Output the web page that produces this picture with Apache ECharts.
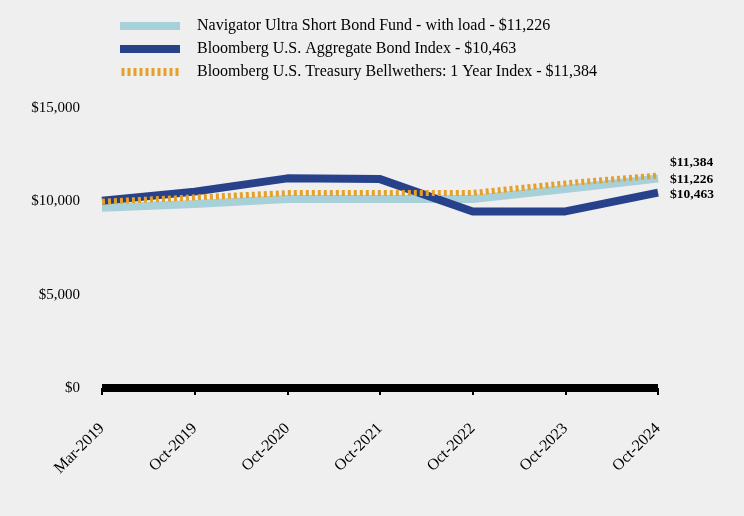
<!DOCTYPE html>
<html><head><meta charset="utf-8">
<script src="https://cdn.jsdelivr.net/npm/echarts@6/dist/echarts.min.js"></script>
<style>html,body{margin:0;padding:0;background:#efefef}#c{width:744px;height:516px}</style>
</head><body><div id="c"></div>
<script>
var categories = ['Mar-2019','Oct-2019','Oct-2020','Oct-2021','Oct-2022','Oct-2023','Oct-2024'];
var fundName = 'Navigator Ultra Short Bond Fund - with load - $11,226';
var aggName = 'Bloomberg U.S. Aggregate Bond Index - $10,463';
var tsyName = 'Bloomberg U.S. Treasury Bellwethers: 1 Year Index - $11,384';
var fundValues = [9650, 9860, 10120, 10130, 10120, 10660, 11226];
var aggValues = [10030, 10520, 11230, 11190, 9450, 9460, 10463];
var tsyValues = [9980, 10210, 10440, 10450, 10450, 10960, 11384];
var yTicks = [0, 5000, 10000, 15000];

var serif = '"Liberation Serif","DejaVu Serif",serif';
function endLabel(offY){
  return {show:true, distance:12, offset:[0,offY], fontFamily:serif, fontSize:13.5, fontWeight:'bold', color:'#000',
    formatter:function(p){ return '$'+p.value.toLocaleString('en-US'); }};
}
var dashIcon = 'path://M0,0h3v8h-3z M6,0h3v8h-3z M12,0h3v8h-3z M18,0h3v8h-3z M24,0h3v8h-3z M30,0h3v8h-3z M36,0h3v8h-3z M42,0h3v8h-3z M48,0h3v8h-3z M54,0h3v8h-3z';
var chart = echarts.init(document.getElementById('c'));
chart.setOption({
  backgroundColor:'#efefef',
  animation:false,
  grid:{left:102, right:86, top:108, bottom:128},
  legend:{
    top:13, left:115, orient:'vertical', itemGap:7, itemWidth:60, itemHeight:8,
    textStyle:{fontFamily:serif, fontSize:16, color:'#000', padding:[0,0,0,12]},
    data:[
      {name:fundName, icon:'rect', itemStyle:{color:'#a8d0d8'}},
      {name:aggName, icon:'rect', itemStyle:{color:'#27418b'}},
      {name:tsyName, icon:dashIcon, itemStyle:{color:'#e5a02a'}}
    ]
  },
  xAxis:{
    type:'category', data:categories, boundaryGap:false,
    axisLine:{lineStyle:{color:'#000', width:8, cap:'butt'}},
    axisTick:{show:true, length:7, lineStyle:{color:'#000', width:2}},
    axisLabel:{rotate:45, margin:38, fontFamily:serif, fontSize:16, color:'#000'}
  },
  yAxis:{
    type:'value', min:0, max:15000, interval:5000,
    splitLine:{show:false}, axisLine:{show:false}, axisTick:{show:false},
    axisLabel:{margin:22, fontFamily:serif, fontSize:15, color:'#000',
      formatter:function(v){ return '$'+v.toLocaleString('en-US'); }}
  },
  series:[
    {name:fundName, type:'line', data:fundValues, symbol:'none', lineStyle:{color:'#a8d0d8', width:8}, itemStyle:{color:'#a8d0d8'}, endLabel:endLabel(1), z:2},
    {name:aggName, type:'line', data:aggValues, symbol:'none', lineStyle:{color:'#27418b', width:8}, itemStyle:{color:'#27418b'}, endLabel:endLabel(2), z:3},
    {name:tsyName, type:'line', data:tsyValues, symbol:'none', lineStyle:{color:'#e5a02a', width:6, type:[3,3]}, itemStyle:{color:'#e5a02a'}, endLabel:endLabel(-13), z:4}
  ]
});
</script></body></html>
